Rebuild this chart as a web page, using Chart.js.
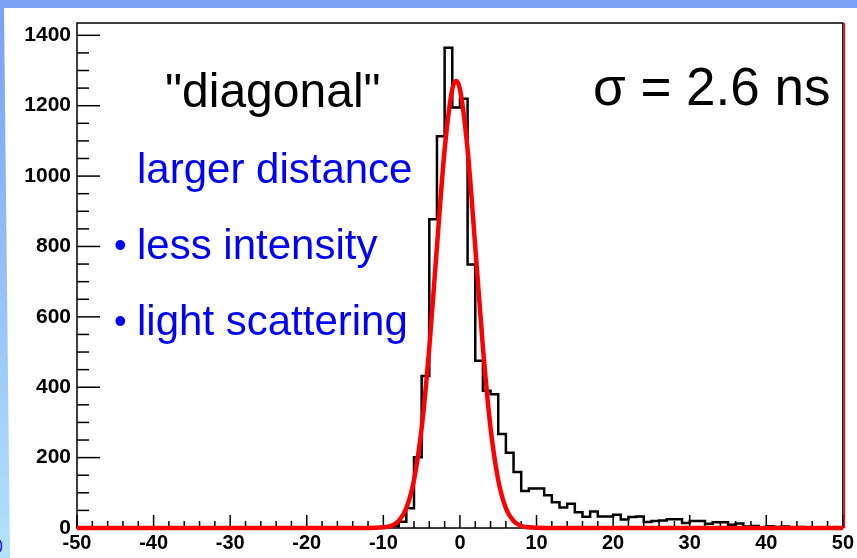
<!DOCTYPE html>
<html>
<head>
<meta charset="utf-8">
<script src="https://cdn.jsdelivr.net/npm/chart.js@4.4.0/dist/chart.umd.min.js"></script>
<style>
html, body { margin: 0; padding: 0; background: #fff; }
#wrap { width: 857px; height: 558px; position: relative; }
</style>
</head>
<body>
<div id="wrap"><canvas id="histo"></canvas></div>
<script>
// lower bin edges (ns), 1 ns bins
const binLow = [
    -12, -11, -10, -9, -8, -7, -6, -5, -4, -3, -2, -1,
    0, 1, 2, 3, 4, 5, 6, 7, 8, 9, 10, 11, 12, 13, 14, 15, 16, 17, 18, 19,
    20, 21, 22, 23, 24, 25, 26, 27, 28, 29, 30, 31, 32, 33, 34, 35, 36, 37,
    38, 39, 40, 41, 42, 43, 44, 45
];

const counts = [
    0, 0, 3, 6, 18, 56, 201, 432, 877, 1113, 1365, 1195,
    1220, 749, 475, 390, 380, 267, 214, 159, 105, 112, 112, 93, 73, 58, 69, 45, 32, 47, 33, 33,
    38, 24, 31, 33, 17, 20, 21, 25, 25, 14, 20, 20, 12, 16, 16, 9, 13, 4,
    6, 2, 5, 3, 4, 2, 3, 0
];

// gaussian fit curve
const fitX = [-50, -12, -10, -9, -8, -7, -6, -5, -4, -3, -2, -1, -0.5, 0, 1, 2, 3, 4, 5, 6, 7, 8, 9, 11, 50];
const fitY = [0, 0, 2, 6, 20, 56, 136, 284, 513, 800, 1075, 1247, 1270, 1247, 1075, 800, 513, 284, 136, 56, 20, 6, 2, 0, 0];

// axis labels
const yTickValues = [0, 200, 400, 600, 800, 1000, 1200, 1400];
const xTickValues = [-50, -40, -30, -20, -10, 0, 10, 20, 30, 40, 50];

const titleText = '"diagonal"';
const sigmaText = 'σ = 2.6 ns';
const notes = ['larger distance', 'less intensity', 'light scattering'];

const histPoints = binLow.map((x, i) => ({ x: x, y: counts[i] }));
histPoints.push({ x: binLow[binLow.length - 1] + 1, y: 0 });
const fitPoints = fitX.map((x, i) => ({ x: x, y: fitY[i] }));

const fontFam = '"Liberation Sans", Arial, Helvetica, sans-serif';

const rootFrame = {
    id: 'rootFrame',
    beforeDraw(chart) {
        const c = chart.ctx;
        const g = c.createLinearGradient(0, 0, 0, 558);
        g.addColorStop(0, '#78a0f4');
        g.addColorStop(1, '#b2e2fb');
        c.save();
        c.fillStyle = g;
        c.beginPath();
        c.moveTo(0, 0);
        c.lineTo(857, 0);
        c.lineTo(857, 8);
        c.lineTo(4, 8);
        c.lineTo(10, 558);
        c.lineTo(0, 558);
        c.closePath();
        c.fill();
        // cut-off slide text at the left edge
        c.fillStyle = '#2a2ad0';
        c.font = '20px ' + fontFam;
        c.textBaseline = 'alphabetic';
        c.fillText('0', -8, 553);
        c.restore();
    },
    beforeDatasetsDraw(chart) {
        const { ctx: c, chartArea: a, scales: { x, y } } = chart;
        c.save();
        c.strokeStyle = '#000';
        c.lineWidth = 1.5;
        c.strokeRect(a.left, a.top, a.right - a.left, a.bottom - a.top);
        for (let v = -50; v <= 50; v += 2) {
            const px = x.getPixelForValue(v);
            const len = v % 10 === 0 ? 13 : 7;
            c.beginPath();
            c.moveTo(px, a.bottom);
            c.lineTo(px, a.bottom - len);
            c.stroke();
        }
        for (let v = 0; v <= 1400; v += 50) {
            const py = y.getPixelForValue(v);
            const len = v % 200 === 0 ? 23 : 12;
            c.beginPath();
            c.moveTo(a.left, py);
            c.lineTo(a.left + len, py);
            c.stroke();
        }
        c.restore();
    },
    afterDraw(chart) {
        const { ctx: c, chartArea: a } = chart;
        c.save();
        c.strokeStyle = '#ff0000';
        c.lineWidth = 1.5;
        c.beginPath();
        c.moveTo(a.right + 1.5, a.top);
        c.lineTo(a.right + 1.5, a.bottom);
        c.stroke();

        c.textBaseline = 'alphabetic';
        c.fillStyle = '#000';
        c.font = '48px ' + fontFam;
        c.fillText(titleText, 165, 107);
        c.font = '53px ' + fontFam;
        c.fillText(sigmaText, 593, 105);

        c.fillStyle = '#0000ff';
        c.font = '42px ' + fontFam;
        c.fillText(notes[0], 137, 183);
        c.fillText(notes[1], 137, 259);
        c.fillText(notes[2], 137, 335);
        c.font = '36px ' + fontFam;
        c.fillText('•', 114, 257);
        c.fillText('•', 114, 333);
        c.restore();
    }
};

new Chart(document.getElementById('histo'), {
    type: 'line',
    data: {
        datasets: [
            {
                label: 'counts',
                data: histPoints,
                stepped: 'before',
                borderColor: '#000',
                borderWidth: 2.5,
                pointRadius: 0,
                fill: false,
                order: 2
            },
            {
                label: 'fit',
                data: fitPoints,
                borderColor: '#ff0000',
                borderWidth: 4.5,
                pointRadius: 0,
                cubicInterpolationMode: 'monotone',
                fill: false,
                clip: false,
                order: 1
            }
        ]
    },
    options: {
        responsive: true,
        maintainAspectRatio: false,
        animation: false,
        layout: { padding: { left: 0, top: 23, right: 14, bottom: 0 } },
        plugins: {
            legend: { display: false },
            tooltip: { enabled: false }
        },
        scales: {
            x: {
                type: 'linear',
                min: -50,
                max: 50,
                grid: { display: false, drawTicks: false, tickLength: 0 },
                border: { display: false },
                afterBuildTicks(scale) {
                    scale.ticks = xTickValues.map(v => ({ value: v }));
                },
                ticks: {
                    autoSkip: false,
                    maxRotation: 0,
                    padding: 3,
                    color: '#000',
                    font: { family: fontFam, size: 20, weight: 'bold' },
                    callback: v => String(v)
                },
                afterFit(scale) { scale.height = 30; }
            },
            y: {
                type: 'linear',
                min: 0,
                max: 1435,
                grid: { display: false, drawTicks: false, tickLength: 0 },
                border: { display: false },
                afterBuildTicks(scale) {
                    scale.ticks = yTickValues.map(v => ({ value: v }));
                },
                ticks: {
                    autoSkip: false,
                    padding: 6,
                    color: '#000',
                    font: { family: fontFam, size: 21, weight: 'bold' },
                    callback: v => String(v)
                },
                afterFit(scale) { scale.width = 77; }
            }
        }
    },
    plugins: [rootFrame]
});
</script>
</body>
</html>
